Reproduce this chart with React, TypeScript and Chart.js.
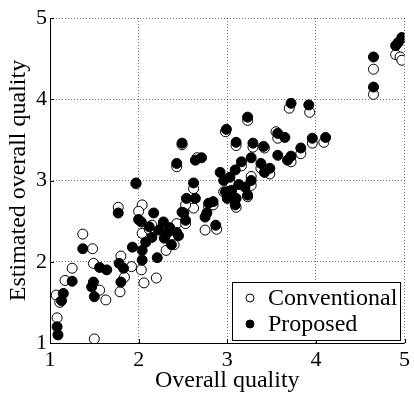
import React, { useEffect, useRef } from "react";
import { Chart, registerables } from "chart.js";

Chart.register(...registerables);

// ---- Data ----
const seriesLabels = ["Conventional", "Proposed"];
const xAxisTitle = "Overall quality";
const yAxisTitle = "Estimated overall quality";
const axisTicks = [1, 2, 3, 4, 5];

const conventionalQuality = [
  1.08, 1.07, 1.11, 1.17, 1.25, 1.37, 1.48, 1.49, 1.56, 1.63, 1.5, 1.8, 1.92, 1.79, 1.84, 1.77,
  2.03, 2.06, 2.2, 2.04, 2.0, 2.04, 2.15, 2.15, 2.31, 2.4, 2.43, 2.53, 2.62, 2.75, 1.97, 2.62,
  2.43, 2.49, 2.66, 2.96, 3.1, 3.27, 2.98, 3.1, 3.23, 3.29, 3.42, 3.55, 3.57, 3.72, 3.7, 3.93,
  3.83, 3.96, 4.09, 2.88, 2.53, 3.16, 3.38, 3.05, 3.23, 2.79, 2.28, 2.12, 2.84, 3.03, 3.48, 3.27,
  4.65, 4.65, 4.9, 4.95, 4.97,
];
const conventionalEstimate = [
  1.31, 1.59, 1.5, 1.77, 1.92, 2.34, 2.16, 1.98, 1.65, 1.53, 1.05, 2.07, 1.94, 1.63, 1.81, 2.67,
  1.9, 1.74, 1.8, 2.7, 2.62, 2.35, 2.35, 2.45, 2.14, 2.21, 2.47, 2.47, 2.66, 2.39, 2.96, 2.9,
  3.17, 3.44, 3.28, 2.86, 2.67, 3.05, 3.6, 3.43, 3.74, 3.41, 3.4, 3.6, 3.52, 3.23, 3.89, 3.84,
  3.33, 3.46, 3.47, 2.4, 2.7, 3.18, 3.15, 2.82, 2.8, 2.68, 2.45, 2.4, 2.7, 2.98, 3.08, 2.94,
  4.37, 4.06, 4.55, 4.52, 4.48,
];

const proposedQuality = [
  1.09, 1.08, 1.13, 1.15, 1.25, 1.37, 1.56, 1.64, 1.49, 1.47, 1.5, 1.78, 1.83, 1.8, 1.77, 1.93,
  1.97, 2.04, 2.04, 2.21, 2.03, 2.0, 2.08, 2.12, 2.15, 2.17, 2.23, 2.28, 2.32, 2.29, 2.37, 2.43,
  2.49, 2.53, 2.51, 2.54, 2.64, 2.75, 2.77, 2.79, 2.84, 2.87, 2.62, 2.43, 2.49, 2.64, 2.71, 2.92,
  2.96, 2.98, 3.03, 3.05, 3.09, 3.1, 3.09, 3.16, 3.2, 3.23, 3.27, 3.27, 3.38, 3.42, 3.48, 3.57,
  3.68, 3.72, 2.99, 3.23, 3.1, 3.29, 3.41, 3.57, 3.65, 3.83, 3.96, 4.11, 3.72, 3.92,
  4.65, 4.65, 4.9, 4.93, 4.97, 2.35, 2.45, 3.0, 3.13,
];
const proposedEstimate = [
  1.1, 1.2, 1.52, 1.61, 1.76, 2.16, 1.93, 1.9, 1.75, 1.69, 1.57, 1.98, 1.92, 1.75, 2.6, 2.18,
  2.97, 2.14, 2.02, 2.05, 2.49, 2.52, 2.24, 2.43, 2.3, 2.6, 2.39, 2.49, 2.35, 2.29, 2.21, 2.36,
  2.61, 2.51, 2.6, 2.78, 2.78, 2.55, 2.6, 2.72, 2.74, 2.45, 2.97, 3.21, 3.46, 3.25, 3.28, 3.1,
  3.0, 2.86, 3.04, 2.88, 3.13, 2.78, 2.7, 3.23, 2.92, 2.82, 3.0, 3.28, 3.21, 3.1, 3.15, 3.31,
  3.25, 3.3, 3.63, 3.78, 3.47, 3.46, 3.42, 3.58, 3.53, 3.4, 3.52, 3.53, 3.95, 3.93,
  4.52, 4.15, 4.66, 4.7, 4.76, 2.42, 2.32, 2.78, 2.95,
];

const FONT = "'Liberation Serif', 'Times New Roman', serif";

const toPoints = (xs: number[], ys: number[]) => xs.map((x, i) => ({ x, y: ys[i] }));

const decorPlugin = {
  id: "decor",
  beforeDatasetsDraw(chart: any) {
    const { ctx, chartArea: ca, scales } = chart;
    const x = scales.x;
    const y = scales.y;
    ctx.save();
    ctx.strokeStyle = "#000";
    ctx.lineWidth = 1;
    ctx.setLineDash([]);
    ctx.beginPath();
    ctx.moveTo(ca.left + 0.5, ca.top);
    ctx.lineTo(ca.left + 0.5, ca.bottom + 0.5);
    ctx.lineTo(ca.right, ca.bottom + 0.5);
    ctx.stroke();
    axisTicks.forEach((v) => {
      const px = Math.round(x.getPixelForValue(v)) + 0.5;
      ctx.beginPath();
      ctx.moveTo(px, ca.bottom);
      ctx.lineTo(px, ca.bottom - 4);
      ctx.stroke();
      const py = Math.round(y.getPixelForValue(v)) + 0.5;
      ctx.beginPath();
      ctx.moveTo(ca.left, py);
      ctx.lineTo(ca.left + 4, py);
      ctx.stroke();
    });
    ctx.restore();
  },
  afterDatasetsDraw(chart: any) {
    const { ctx, chartArea: ca } = chart;
    const w = 168;
    const h = 58;
    const bx = Math.round(ca.right - 5 - w);
    const by = Math.round(ca.bottom - 3 - h);
    ctx.save();
    ctx.fillStyle = "#fff";
    ctx.fillRect(bx, by, w, h);
    ctx.strokeStyle = "#000";
    ctx.lineWidth = 1;
    ctx.strokeRect(bx + 0.5, by + 0.5, w, h);
    ctx.font = `24px ${FONT}`;
    ctx.textBaseline = "middle";
    ctx.textAlign = "left";
    [0, 1].forEach((i) => {
      const ds = chart.data.datasets[i];
      const cy = by + 16 + i * 26;
      ctx.beginPath();
      ctx.arc(bx + 18, cy, 4, 0, Math.PI * 2);
      ctx.fillStyle = ds.backgroundColor;
      ctx.fill();
      ctx.strokeStyle = "#000";
      ctx.stroke();
      ctx.fillStyle = "#000";
      ctx.fillText(ds.label, bx + 36, cy + 1);
    });
    ctx.restore();
  },
};

export default function App() {
  const canvasRef = useRef<HTMLCanvasElement | null>(null);

  useEffect(() => {
    if (!canvasRef.current) return;
    const chart = new Chart(canvasRef.current, {
      type: "scatter",
      data: {
        datasets: [
          {
            label: seriesLabels[0],
            data: toPoints(conventionalQuality, conventionalEstimate),
            backgroundColor: "#ffffff",
            borderColor: "#000000",
            borderWidth: 1,
            pointRadius: 5,
            order: 1,
          },
          {
            label: seriesLabels[1],
            data: toPoints(proposedQuality, proposedEstimate),
            backgroundColor: "#000000",
            borderColor: "#000000",
            borderWidth: 1,
            pointRadius: 5,
            order: 0,
          },
        ],
      },
      options: {
        responsive: false,
        animation: false,
        devicePixelRatio: 1,
        layout: { padding: { left: 0, top: 18, right: 6, bottom: 0 } },
        plugins: {
          legend: { display: false },
          tooltip: { enabled: false },
        },
        scales: {
          x: {
            type: "linear",
            min: 1,
            max: 5,
            afterFit: (s: any) => {
              s.height = 51;
            },
            ticks: {
              stepSize: 1,
              padding: 4,
              color: "#000",
              font: { family: FONT, size: 22 },
            },
            grid: { color: "rgba(0,0,0,0.55)", drawTicks: false, lineWidth: 1 },
            border: { display: false, dash: [1, 2] },
            title: {
              display: true,
              text: xAxisTitle,
              color: "#000",
              font: { family: FONT, size: 24, lineHeight: 1 },
              padding: { top: 0, bottom: 1 },
            },
          },
          y: {
            type: "linear",
            min: 1,
            max: 5,
            afterFit: (s: any) => {
              s.width = 50;
            },
            ticks: {
              stepSize: 1,
              padding: 3,
              color: "#000",
              font: { family: FONT, size: 22 },
            },
            grid: { color: "rgba(0,0,0,0.55)", drawTicks: false, lineWidth: 1 },
            border: { display: false, dash: [1, 2] },
            title: {
              display: true,
              text: yAxisTitle,
              color: "#000",
              font: { family: FONT, size: 24, lineHeight: 1 },
              padding: { top: 7, bottom: 0 },
            },
          },
        },
      },
      plugins: [decorPlugin],
    });
    return () => chart.destroy();
  }, []);

  return (
    <div style={{ position: "absolute", left: 0, top: 0, width: 414, height: 394, background: "#fff" }}>
      <canvas ref={canvasRef} width={414} height={394} />
    </div>
  );
}
